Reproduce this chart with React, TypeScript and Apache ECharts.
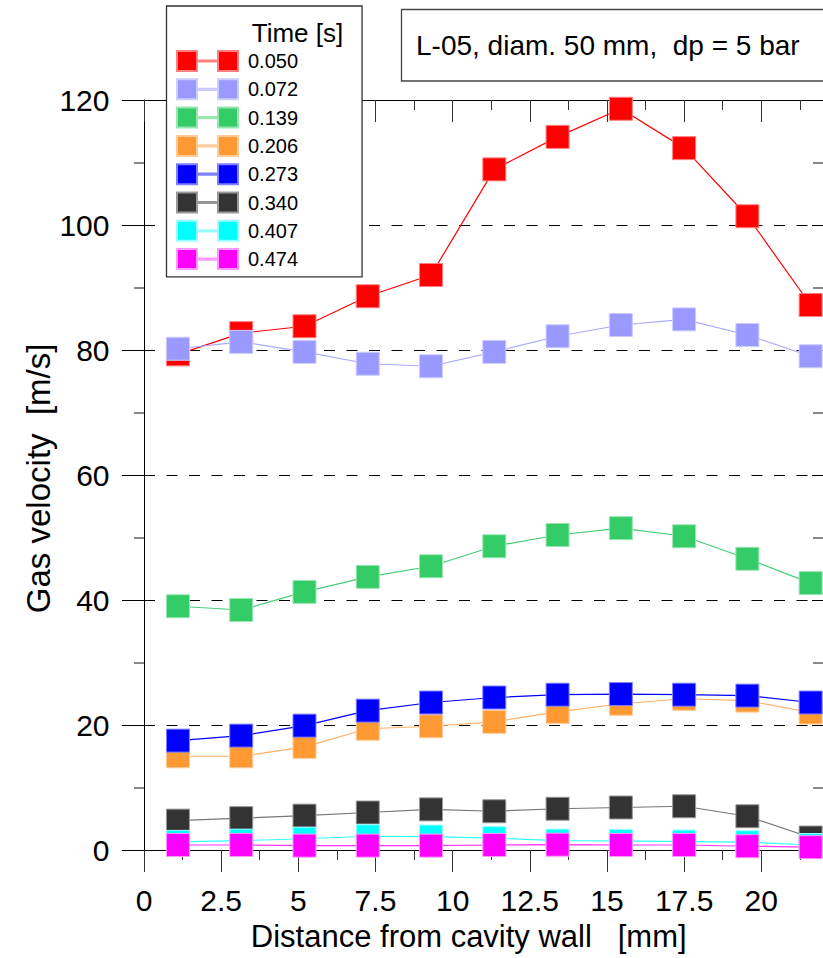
import React, { useEffect, useRef } from "react";
import * as echarts from "echarts";

const distances = [1.1, 3.15, 5.2, 7.25, 9.3, 11.35, 13.4, 15.45, 17.5, 19.55, 21.6];
const timeLabels = ["0.050", "0.072", "0.139", "0.206", "0.273", "0.340", "0.407", "0.474"];

const v050 = [79.3, 82.7, 83.8, 88.6, 92.0, 108.9, 114.1, 118.6, 112.3, 101.4, 87.2];
const v072 = [80.2, 81.3, 79.7, 77.8, 77.4, 79.7, 82.2, 84.0, 84.9, 82.4, 79.0];
const v139 = [39.0, 38.4, 41.3, 43.7, 45.4, 48.6, 50.4, 51.5, 50.2, 46.6, 42.7];
const v206 = [15.0, 15.0, 16.5, 19.4, 19.8, 20.5, 22.1, 23.4, 24.2, 23.9, 22.0];
const v273 = [17.5, 18.3, 19.9, 22.3, 23.6, 24.4, 24.85, 24.95, 24.85, 24.7, 23.6];
const v340 = [4.7, 5.1, 5.5, 6.0, 6.5, 6.2, 6.6, 6.8, 7.0, 5.4, 2.0];
const v407 = [1.3, 1.5, 1.8, 2.2, 2.15, 1.9, 1.5, 1.45, 1.35, 1.25, 0.8];
const v474 = [0.8, 0.8, 0.7, 0.7, 0.7, 0.8, 0.85, 0.8, 0.8, 0.6, 0.45];

const seriesValues = [v050, v072, v139, v206, v273, v340, v407, v474];
const markerColors = ["#ff0000", "#9999ff", "#33cc66", "#ff9933", "#0000ff", "#333333", "#00ffff", "#ff00ff"];
const lineColors = ["#ff0000", "#aaaaff", "#44cc77", "#ffb066", "#0000ff", "#777777", "#33ffff", "#ff33ff"];
const borderColors = ["#ff8080", "#ccccff", "#99e6b3", "#ffcc99", "#8080ff", "#999999", "#99ffff", "#ff99ff"];

const xTicks = [0, 2.5, 5, 7.5, 10, 12.5, 15, 17.5, 20];
const yTicks = [0, 20, 40, 60, 80, 100, 120];

const FONT = "'Liberation Sans', Arial, Helvetica, sans-serif";

export default function App() {
  const ref = useRef<HTMLDivElement>(null);

  useEffect(() => {
    document.body.style.margin = "0";
    document.body.style.overflow = "hidden";
    const chart = echarts.init(ref.current!, null, { renderer: "svg" });

    const xMajorBase = {
      type: "value",
      min: 0,
      max: 22,
      splitLine: { show: false },
    };

    const option: any = {
      animation: false,
      backgroundColor: "#ffffff",
      grid: { left: 144, top: 100, width: 680.5, height: 750 },
      xAxis: [
        {
          ...xMajorBase,
          position: "bottom",
          interval: 2.5,
          axisLine: { onZero: false, lineStyle: { color: "#000", width: 1 } },
          axisTick: { inside: false, length: 22, lineStyle: { color: "#333", width: 1 } },
          axisLabel: {
            fontSize: 30,
            fontFamily: FONT,
            color: "#000",
            margin: 35,
            showMaxLabel: false,
            formatter: (v: number) => (xTicks.indexOf(v) >= 0 ? String(v) : ""),
          },
        },
        {
          ...xMajorBase,
          position: "bottom",
          interval: 1.25,
          axisLine: { show: false, onZero: false },
          axisTick: { inside: false, length: 10, lineStyle: { color: "#333", width: 1 } },
          axisLabel: { show: false },
        },
        {
          ...xMajorBase,
          position: "top",
          interval: 2.5,
          axisLine: { onZero: false, lineStyle: { color: "#000", width: 1 } },
          axisTick: { inside: true, length: 22, lineStyle: { color: "#333", width: 1 } },
          axisLabel: { show: false },
        },
        {
          ...xMajorBase,
          position: "top",
          interval: 1.25,
          axisLine: { show: false, onZero: false },
          axisTick: { inside: true, length: 10, lineStyle: { color: "#333", width: 1 } },
          axisLabel: { show: false },
        },
      ],
      yAxis: [
        {
          type: "value",
          position: "left",
          min: 0,
          max: 120,
          interval: 20,
          axisLine: { show: true, onZero: false, lineStyle: { color: "#000", width: 1 } },
          axisTick: { inside: false, length: 22, lineStyle: { color: "#000", width: 1 } },
          minorTick: { show: true, splitNumber: 2, length: 10, lineStyle: { color: "#888", width: 2 } },
          axisLabel: {
            fontSize: 30,
            fontFamily: FONT,
            color: "#000",
            margin: 34.5,
            formatter: (v: number) => (yTicks.indexOf(v) >= 0 ? String(v) : ""),
          },
          splitLine: { show: true, lineStyle: { color: "#000", width: 1, type: [11, 11.5] } },
        },
        {
          type: "value",
          position: "left",
          min: 0,
          max: 120,
          interval: 20,
          axisLine: { show: false, onZero: false },
          axisTick: { inside: true, length: 11, lineStyle: { color: "#000", width: 1 } },
          axisLabel: { show: false },
          splitLine: { show: false },
        },
        {
          type: "value",
          position: "right",
          min: 0,
          max: 120,
          interval: 20,
          axisLine: { show: true, onZero: false, lineStyle: { color: "#000", width: 1 } },
          axisTick: { inside: true, length: 11, lineStyle: { color: "#000", width: 1 } },
          minorTick: { show: true, splitNumber: 2, length: 10, lineStyle: { color: "#888", width: 2 } },
          axisLabel: { show: false },
          splitLine: { show: false },
        },
      ],
      legend: {
        orient: "vertical",
        left: 166.5,
        top: 6,
        padding: [44, 64, 6.7, 9.5],
        itemGap: 6.3,
        itemWidth: 61,
        itemHeight: 20,
        icon: "path://M0,0H20V20H0Z M41,0H61V20H41Z M20,9.4H41V10.6H20Z",
        backgroundColor: "#ffffff",
        borderColor: "#333",
        borderWidth: 1.3,
        selectedMode: false,
        textStyle: { fontSize: 20, fontFamily: FONT, color: "#000", padding: [0, 0, 0, 5] },
        data: timeLabels,
      },
      graphic: [
        {
          type: "rect",
          z: 100,
          shape: { x: 401.5, y: 9.5, width: 440, height: 71.5 },
          style: { fill: "#ffffff", stroke: "#444", lineWidth: 1.3 },
        },
        {
          type: "text",
          z: 101,
          x: 416,
          y: 45,
          style: {
            text: "L-05, diam. 50 mm,  dp = 5 bar",
            fontSize: 28,
            fontFamily: FONT,
            fill: "#000",
            align: "left",
            verticalAlign: "middle",
          },
        },
        {
          type: "text",
          z: 101,
          x: 297.5,
          y: 33,
          style: {
            text: "Time [s]",
            fontSize: 26,
            fontFamily: FONT,
            fill: "#000",
            align: "center",
            verticalAlign: "middle",
          },
        },
        {
          type: "text",
          z: 101,
          x: 38.5,
          y: 478.4,
          rotation: Math.PI / 2,
          style: {
            text: "Gas velocity  [m/s]",
            fontSize: 33,
            fontFamily: FONT,
            fill: "#000",
            align: "center",
            verticalAlign: "middle",
          },
        },
        {
          type: "text",
          z: 101,
          x: 468.7,
          y: 936,
          style: {
            text: "Distance from cavity wall   [mm]",
            fontSize: 31,
            fontFamily: FONT,
            fill: "#000",
            align: "center",
            verticalAlign: "middle",
          },
        },
      ],
      series: timeLabels.map((name, si) => ({
        type: "line",
        name,
        xAxisIndex: 0,
        yAxisIndex: 0,
        clip: false,
        symbol: "rect",
        symbolSize: 23,
        data: distances.map((d, i) => [d, seriesValues[si][i]]),
        lineStyle: { color: lineColors[si], width: 1.2 },
        itemStyle: { color: markerColors[si], borderColor: borderColors[si], borderWidth: 1 },
        emphasis: { disabled: true },
      })),
    };

    chart.setOption(option);
    return () => chart.dispose();
  }, []);

  return <div ref={ref} style={{ width: 823, height: 958 }} />;
}
